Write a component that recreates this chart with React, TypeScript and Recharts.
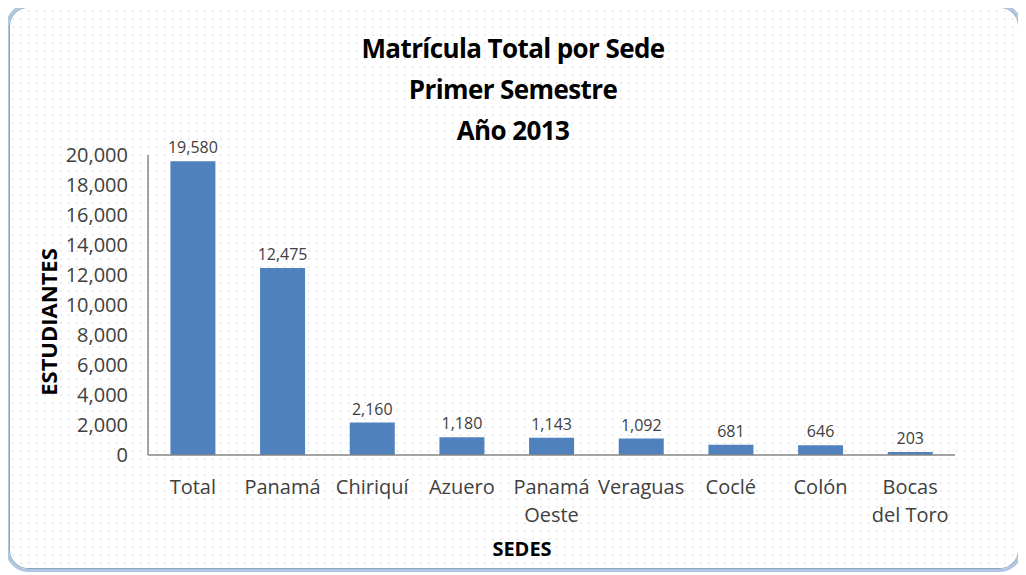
import React from "react";
import { BarChart, Bar, XAxis, YAxis, LabelList } from "recharts";

const sedes: string[] = [
  "Total",
  "Panamá",
  "Chiriquí",
  "Azuero",
  "Panamá\nOeste",
  "Veraguas",
  "Coclé",
  "Colón",
  "Bocas\ndel Toro",
];
const estudiantes: number[] = [19580, 12475, 2160, 1180, 1143, 1092, 681, 646, 203];
const yTicks: number[] = [0, 2000, 4000, 6000, 8000, 10000, 12000, 14000, 16000, 18000, 20000];
const titleLines: string[] = ["Matrícula Total por Sede", "Primer Semestre", "Año 2013"];

const chartData = sedes.map((sede, i) => ({ sede, value: estudiantes[i] }));

const FONT = "'Open Sans', 'Noto Sans', sans-serif";
const fmt = (v: number) => v.toLocaleString("en-US");

const SedeTick = (props: any) => {
  const { x, y, payload } = props;
  const lines = String(payload.value).split("\n");
  return (
    <text x={x} y={y + 31} textAnchor="middle" fill="#404040" fontSize={20} fontFamily={FONT}>
      {lines.map((line, i) => (
        <tspan key={i} x={x} dy={i === 0 ? 0 : 28}>
          {line}
        </tspan>
      ))}
    </text>
  );
};

const App: React.FC = () => {
  return (
    <div
      style={{
        position: "relative",
        width: 1026,
        height: 575,
        marginTop: -8,
        marginLeft: -8,
        background: "#ffffff",
        fontFamily: FONT,
      }}
    >
      <div
        style={{
          position: "absolute",
          left: 6,
          top: 4,
          width: 1016,
          height: 568,
          boxSizing: "border-box",
          border: "3px solid #aec6e4",
          borderRadius: 22,
          boxShadow: "inset 0 0 0 1px #8fa3bd",
          backgroundImage: "radial-gradient(circle, #ececec 0.8px, transparent 1.2px)",
          backgroundSize: "8px 8px",
        }}
      />
      {titleLines.map((line, i) => (
        <div
          key={i}
          style={{
            position: "absolute",
            left: 0,
            width: 1026,
            top: 30 + i * 41,
            textAlign: "center",
            fontSize: 26,
            fontWeight: 700,
            letterSpacing: -0.6,
            lineHeight: "36px",
            color: "#000",
          }}
        >
          {line}
        </div>
      ))}
      <div
        style={{
          position: "absolute",
          left: 48,
          top: 322,
          transform: "translate(-50%, -50%) rotate(-90deg)",
          fontSize: 22,
          fontWeight: 700,
          color: "#000",
          whiteSpace: "nowrap",
        }}
      >
        ESTUDIANTES
      </div>
      <div
        style={{
          position: "absolute",
          left: 522,
          top: 548,
          transform: "translate(-50%, -50%)",
          fontSize: 20,
          fontWeight: 700,
          color: "#000",
        }}
      >
        SEDES
      </div>
      <div style={{ position: "absolute", left: 0, top: 0 }}>
        <BarChart
          width={1026}
          height={575}
          data={chartData}
          margin={{ top: 155, right: 71, bottom: 60, left: 0 }}
          barCategoryGap="25%"
        >
          <XAxis
            dataKey="sede"
            height={60}
            interval={0}
            axisLine={{ stroke: "#868686", strokeWidth: 1.5 }}
            tickLine={false}
            tickMargin={2}
            tick={<SedeTick />}
          />
          <YAxis
            width={148}
            domain={[0, 20000]}
            ticks={yTicks}
            interval={0}
            tickFormatter={fmt}
            axisLine={{ stroke: "#868686", strokeWidth: 1.5 }}
            tickLine={false}
            tickMargin={14}
            tick={{ fill: "#404040", fontSize: 20, fontFamily: FONT }}
          />
          <Bar dataKey="value" fill="#4f81bd" isAnimationActive={false}>
            <LabelList
              dataKey="value"
              position="top"
              offset={8}
              formatter={(v: any) => fmt(Number(v))}
              style={{ fill: "#404040", fontSize: 16, fontFamily: FONT }}
            />
          </Bar>
        </BarChart>
      </div>
    </div>
  );
};

export default App;
